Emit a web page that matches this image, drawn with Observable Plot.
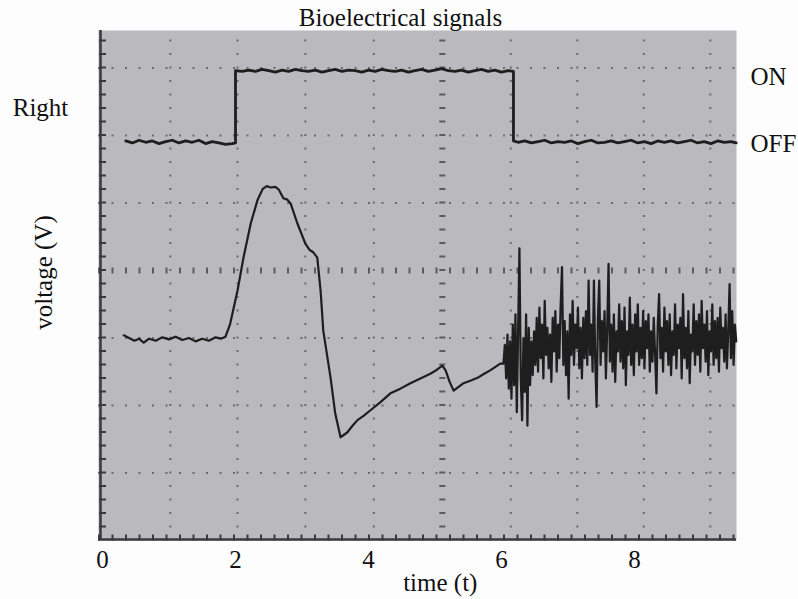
<!DOCTYPE html>
<html>
<head>
<meta charset="utf-8">
<script src="https://cdn.jsdelivr.net/npm/d3@7"></script>
<script src="https://cdn.jsdelivr.net/npm/@observablehq/plot@0.6"></script>
<style>
  html, body { margin: 0; padding: 0; background: #fdfdfd; }
  #chart svg { display: block; }
</style>
</head>
<body>
<div id="chart"></div>
<script>
// ---- text ----
const title = "Bioelectrical signals";
const xLabel = "time (t)";
const yLabel = "voltage (V)";
const traceName = "Right";
const stateLabels = ["ON", "OFF"];
const stateLevels = [6.86, 5.88];   // label rows, in screen divisions

// ---- axis / graticule (time units, vertical divisions) ----
const xTicks = [0, 2, 4, 6, 8];
const xDomain = [-0.06, 9.534];
const yDomain = [0, 7.556];
const gridT = [1.02, 2.03, 3.05, 4.08, 6.14, 7.14, 8.14, 9.14];
const centerT = [5.11];
const gridV = [1, 2, 3, 5, 6, 7];
const centerV = [4];

// ---- "Right" switch trace: [time, divisions] ----
const rightTrace = [
  [0.35,5.92],[0.45,5.89],[0.55,5.93],[0.65,5.90],[0.75,5.92],[0.85,5.88],[0.95,5.91],[1.05,5.93],
  [1.15,5.89],[1.25,5.92],[1.35,5.90],[1.45,5.93],[1.55,5.88],[1.65,5.91],[1.75,5.89],[1.85,5.87],
  [1.95,5.88],[2.00,5.89],
  [2.00,6.96],[2.10,6.95],[2.20,6.97],[2.30,6.95],[2.40,6.98],[2.50,6.96],[2.60,6.94],[2.70,6.97],
  [2.80,6.95],[2.90,6.98],[3.00,6.96],[3.10,6.95],[3.20,6.97],[3.30,6.94],[3.40,6.96],[3.50,6.98],
  [3.60,6.95],[3.70,6.97],[3.80,6.96],[3.90,6.94],[4.00,6.97],[4.10,6.95],[4.20,6.98],[4.30,6.96],
  [4.40,6.95],[4.50,6.97],[4.60,6.94],[4.70,6.96],[4.80,6.98],[4.90,6.95],[5.00,6.97],[5.10,6.99],
  [5.20,6.96],[5.30,6.95],[5.40,6.97],[5.50,6.94],[5.60,6.96],[5.70,6.98],[5.80,6.95],[5.90,6.97],
  [6.00,6.94],[6.10,6.96],[6.18,6.95],
  [6.18,5.92],[6.25,5.90],[6.35,5.92],[6.45,5.89],[6.55,5.91],[6.65,5.93],[6.75,5.89],[6.85,5.91],
  [6.95,5.90],[7.05,5.92],[7.15,5.88],[7.25,5.91],[7.35,5.93],[7.45,5.89],[7.55,5.90],[7.65,5.92],
  [7.75,5.89],[7.85,5.91],[7.95,5.93],[8.05,5.89],[8.15,5.91],[8.25,5.88],[8.35,5.92],[8.45,5.90],
  [8.55,5.92],[8.65,5.89],[8.75,5.91],[8.85,5.93],[8.95,5.89],[9.05,5.91],[9.15,5.88],[9.25,5.92],
  [9.35,5.90],[9.45,5.91],[9.53,5.89]
];

// ---- voltage trace: [time, divisions] ----
const voltageTrace = [
  [0.32,3.04],[0.40,3.00],[0.48,2.96],[0.55,2.99],[0.62,2.93],[0.70,2.99],[0.80,2.96],[0.90,3.01],
  [1.00,2.98],[1.10,3.02],[1.20,2.97],[1.30,3.00],[1.40,2.95],[1.50,2.99],[1.60,2.96],[1.70,3.01],
  [1.78,2.99],[1.85,3.02],
  [1.92,3.21],[2.03,3.70],[2.12,4.19],[2.23,4.70],[2.33,5.04],[2.41,5.21],[2.47,5.25],[2.53,5.23],
  [2.60,5.24],[2.65,5.20],[2.72,5.07],[2.78,5.05],[2.83,4.99],[2.93,4.70],[3.05,4.40],[3.12,4.30],
  [3.17,4.27],[3.23,4.19],[3.28,3.70],[3.32,3.11],[3.43,2.41],[3.50,1.88],[3.58,1.53],[3.68,1.60],
  [3.76,1.70],[3.83,1.78],[3.93,1.85],[4.03,1.93],[4.18,2.05],[4.33,2.18],[4.48,2.25],[4.63,2.33],
  [4.78,2.40],[4.93,2.47],[5.03,2.53],[5.11,2.59],[5.16,2.52],[5.22,2.35],[5.28,2.22],[5.36,2.28],
  [5.43,2.33],[5.54,2.37],[5.64,2.41],[5.74,2.47],[5.83,2.52],[5.92,2.58],[5.98,2.62],
  // noisy section
  [6.03,2.62],[6.05,2.90],[6.07,2.40],[6.09,3.05],[6.11,2.25],[6.13,2.95],[6.15,2.10],[6.17,3.20],
  [6.19,2.30],[6.21,3.35],[6.23,1.90],[6.25,3.10],[6.27,4.33],[6.29,2.40],[6.31,1.78],[6.33,3.00],
  [6.35,2.20],[6.37,3.35],[6.39,1.70],[6.41,3.15],[6.43,2.30],[6.45,2.95],
  [6.47,2.45],[6.49,3.10],[6.51,2.60],[6.53,3.30],[6.55,2.50],[6.57,3.45],[6.59,2.70],[6.61,3.20],
  [6.63,2.40],[6.65,3.55],[6.67,2.75],[6.69,3.15],[6.71,2.55],[6.73,3.05],[6.75,2.35],[6.77,3.30],
  [6.79,2.80],[6.81,3.40],[6.83,2.50],[6.85,3.20],[6.87,2.70],[6.89,3.50],[6.91,4.05],[6.93,2.60],
  [6.95,3.25],[6.97,2.45],[6.99,3.10],[7.01,2.10],[7.03,3.35],[7.05,2.75],[7.07,3.55],[7.09,2.60],
  [7.11,3.20],[7.13,2.85],[7.15,3.45],[7.17,2.55],[7.19,3.15],[7.21,2.40],[7.23,3.30],[7.25,2.70],
  [7.27,3.40],[7.29,2.60],[7.31,3.85],[7.33,2.75],[7.35,3.20],[7.37,2.50],[7.39,3.85],[7.41,2.65],
  [7.43,1.98],[7.45,3.30],[7.47,3.85],[7.49,2.60],
  [7.51,3.25],[7.53,2.80],[7.55,3.40],[7.57,2.40],[7.59,3.15],[7.61,4.10],[7.63,2.65],[7.65,3.20],
  [7.67,2.50],[7.69,3.35],[7.71,2.35],[7.73,3.10],[7.75,2.80],[7.77,3.50],[7.79,2.65],[7.81,3.25],
  [7.83,2.55],[7.85,3.45],[7.87,2.30],[7.89,3.10],[7.91,2.75],[7.93,3.60],[7.95,2.60],[7.97,3.20],
  [7.99,2.45],[8.01,3.35],[8.03,2.80],[8.05,3.50],[8.07,2.60],[8.09,3.15],[8.11,2.70],[8.13,3.40],
  [8.15,2.55],[8.17,3.25],[8.19,2.85],[8.21,3.35],[8.23,2.50],[8.25,3.10],[8.27,2.65],[8.29,3.30],
  [8.31,2.75],[8.33,2.18],[8.35,3.20],[8.37,3.65],[8.39,2.70],[8.41,3.15],[8.43,2.50],[8.45,3.45],
  [8.47,2.80],[8.49,3.25],
  [8.51,2.60],[8.53,3.35],[8.55,2.45],[8.57,3.10],[8.59,2.75],[8.61,3.50],[8.63,2.55],[8.65,3.20],
  [8.67,2.85],[8.69,3.30],[8.71,2.40],[8.73,3.65],[8.75,2.70],[8.77,3.15],[8.79,2.55],[8.81,3.40],
  [8.83,2.33],[8.85,3.05],[8.87,2.80],[8.89,3.50],[8.91,2.60],[8.93,3.25],[8.95,2.75],[8.97,3.35],
  [8.99,2.50],[9.01,3.55],[9.03,2.85],[9.05,3.20],[9.07,2.65],[9.09,3.40],[9.11,2.45],[9.13,3.10],
  [9.15,2.80],[9.17,3.50],[9.19,2.60],[9.21,3.25],[9.23,2.70],[9.25,3.30],[9.27,2.50],[9.29,3.45],
  [9.31,2.85],[9.33,3.15],[9.35,2.65],[9.37,3.35],[9.39,2.55],[9.41,3.10],[9.43,3.80],[9.45,2.70],
  [9.47,3.40],[9.49,2.60],[9.51,3.20],[9.53,2.95]
];

const ink = "#1e1e1e";
const dotInk = "#4a4a50";
const serif = "'Liberation Serif', 'Times New Roman', Times, serif";
const fs = 25;

const chart = Plot.plot({
  width: 798,
  height: 599,
  marginLeft: 98,
  marginRight: 62,
  marginTop: 30,
  marginBottom: 59,
  style: { fontFamily: serif, fontSize: fs + "px", color: "#111", background: "#fdfdfd" },
  x: { domain: xDomain, axis: null },
  y: { domain: yDomain, axis: null },
  marks: [
    Plot.frame({ fill: "#b9b9be", stroke: null }),
    // dotted graticule
    Plot.gridX(gridT, { stroke: dotInk, strokeOpacity: 0.7, strokeWidth: 2, strokeDasharray: "2,11.5", strokeDashoffset: 4 }),
    Plot.gridY(gridV, { stroke: dotInk, strokeOpacity: 0.7, strokeWidth: 2, strokeDasharray: "2,11.5" }),
    // centre lines with minor tick dashes
    Plot.ruleX(centerT, { stroke: dotInk, strokeOpacity: 0.85, strokeWidth: 6, strokeDasharray: "2,11.5", strokeDashoffset: 4 }),
    Plot.ruleY(centerV, { stroke: dotInk, strokeOpacity: 0.85, strokeWidth: 6, strokeDasharray: "2,11.5" }),
    // left and bottom edges with tick marks
    Plot.ruleX([xDomain[0]], { stroke: "#3a3a3e", strokeWidth: 2.5, dx: 2 }),
    Plot.ruleX([xDomain[0]], { stroke: "#3a3a3e", strokeWidth: 7, strokeDasharray: "2,11.5", strokeDashoffset: 4, dx: 4 }),
    Plot.ruleY([yDomain[0]], { stroke: "#3a3a3e", strokeWidth: 2.5, dy: -1 }),
    Plot.ruleY([yDomain[0]], { stroke: "#3a3a3e", strokeWidth: 6, strokeDasharray: "2,11.5", dy: -3 }),
    // traces
    Plot.line(rightTrace, { x: d => d[0], y: d => d[1], stroke: ink, strokeWidth: 2.8, curve: "linear" }),
    Plot.line(voltageTrace, { x: d => d[0], y: d => d[1], stroke: ink, strokeWidth: 2.2, curve: "linear", strokeLinejoin: "round" }),
    // x tick labels
    Plot.text(xTicks, { x: d => d, text: d => String(d), frameAnchor: "bottom", textAnchor: "middle", lineAnchor: "middle", dy: 19, fontSize: fs, fill: "#111" }),
    // labels
    Plot.text([xLabel], { x: 5.08, frameAnchor: "bottom", textAnchor: "middle", lineAnchor: "middle", dy: 42, fontSize: fs, fill: "#111" }),
    Plot.text([title], { x: 4.48, frameAnchor: "top", textAnchor: "middle", lineAnchor: "middle", dy: -13, fontSize: fs, fill: "#111" }),
    Plot.text([traceName], { y: 6.41, frameAnchor: "left", textAnchor: "middle", lineAnchor: "middle", dx: -58, fontSize: fs, fill: "#111" }),
    Plot.text([yLabel], { y: 3.97, frameAnchor: "left", textAnchor: "middle", lineAnchor: "middle", dx: -55, rotate: -90, fontSize: fs, fill: "#111" }),
    Plot.text(stateLabels, { y: (d, i) => stateLevels[i], frameAnchor: "right", textAnchor: "start", lineAnchor: "middle", dx: 14, fontSize: fs, fill: "#111" })
  ]
});
document.getElementById("chart").appendChild(chart);
</script>
</body>
</html>
